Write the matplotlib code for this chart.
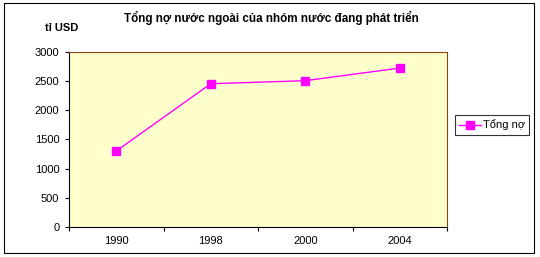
import matplotlib.pyplot as plt
from matplotlib.patches import Rectangle

plt.rcParams['font.family'] = ['Liberation Sans', 'DejaVu Sans']

nam = ['1990', '1998', '2000', '2004']
tong_no = [1300, 2452, 2504, 2720]
yticks = [0, 500, 1000, 1500, 2000, 2500, 3000]

fig = plt.figure(figsize=(5.4, 2.57), dpi=100)
ax = fig.add_axes([69 / 540, 30 / 257, 378 / 540, 175.3 / 257])
ax.set_facecolor('#FFFFCC')

x = list(range(len(nam)))
ax.plot(x, tong_no, color='#FF00FF', linewidth=1, marker='s', markersize=6,
        markerfacecolor='#FF00FF', markeredgecolor='#FF00FF', label='Tổng nợ')

ax.set_xlim(-0.5, len(nam) - 0.5)
ax.set_ylim(0, 3000)
ax.set_yticks(yticks)
ax.set_yticklabels([str(v) for v in yticks], fontsize=8)
ax.set_xticks(x)
ax.set_xticklabels(nam, fontsize=8)
ax.tick_params(axis='x', length=0, pad=6.5)
ax.set_xticks([i - 0.5 for i in range(len(nam) + 1)], minor=True)
ax.tick_params(axis='x', which='minor', length=3, width=0.8, direction='out')
ax.tick_params(axis='y', length=3, width=0.8, direction='out', pad=4)

for s in ['top', 'right']:
    ax.spines[s].set_color('#8B4513')
    ax.spines[s].set_linewidth(0.8)
for s in ['left', 'bottom']:
    ax.spines[s].set_color('black')
    ax.spines[s].set_linewidth(0.8)

fig.text(271 / 540, 1 - 18 / 257, 'Tổng nợ nước ngoài của nhóm nước đang phát triển',
         ha='center', va='center', fontsize=8.4, fontweight='bold')
fig.text(45 / 540, 1 - 28 / 257, 'tỉ USD', ha='left', va='center',
         fontsize=8, fontweight='bold')

leg = fig.legend(loc='center left', bbox_to_anchor=(455 / 540, 1 - 125 / 257),
                 fontsize=8, frameon=True, fancybox=False, handlelength=1.9,
                 borderpad=0.4, borderaxespad=0, handletextpad=0.2)
leg.get_frame().set_edgecolor('black')
leg.get_frame().set_linewidth(0.8)

fig.patches.append(Rectangle((4 / 540, 4 / 257), 530 / 540, 249.5 / 257,
                             transform=fig.transFigure, fill=False,
                             edgecolor='black', linewidth=0.8))

plt.savefig('out.png', dpi=100)
